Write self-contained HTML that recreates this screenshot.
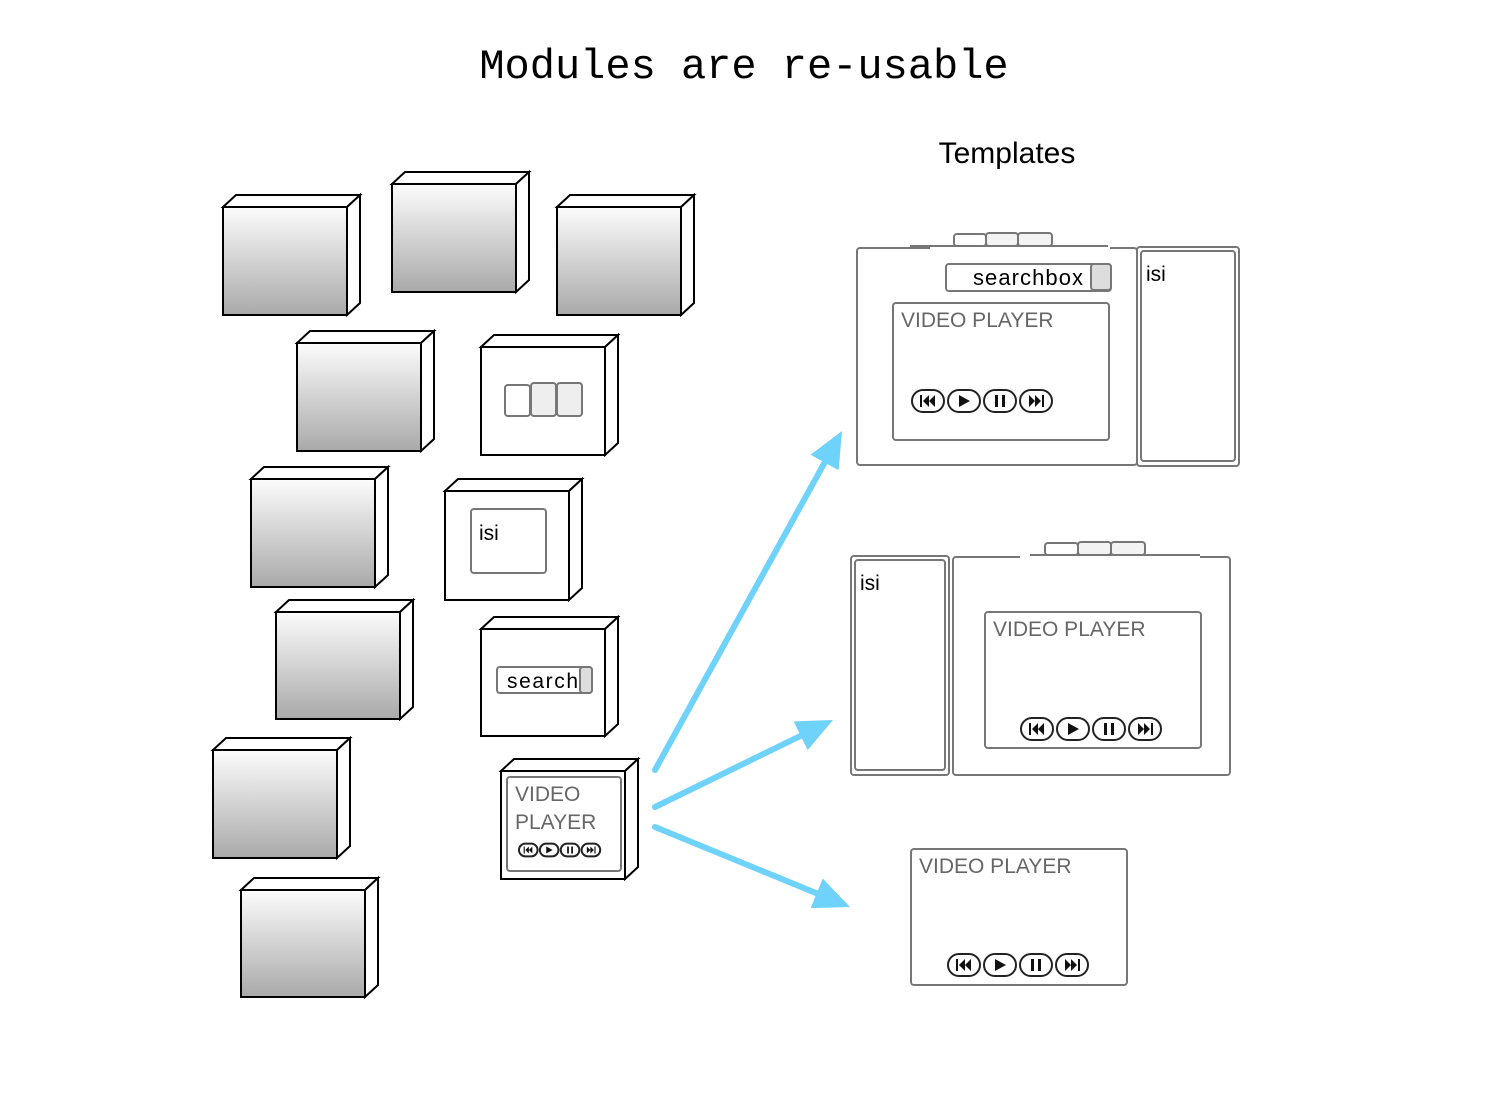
<!DOCTYPE html>
<html><head><meta charset="utf-8"><style>
html,body{margin:0;padding:0;background:#fff;}
svg{display:block}
.hand{font-family:"Liberation Sans",sans-serif;fill:#666;font-size:21px}
.lbl{font-family:"Liberation Sans",sans-serif;fill:#000}
</style></head><body>
<svg id="s" width="1512" height="1106" viewBox="0 0 1512 1106" xmlns="http://www.w3.org/2000/svg">
<defs>
<linearGradient id="g" x1="0" y1="0" x2="0" y2="1"><stop offset="0" stop-color="#fcfcfc"/><stop offset="1" stop-color="#a9a9a9"/></linearGradient>
</defs>
<text x="744" y="78" text-anchor="middle" font-family="Liberation Mono,monospace" font-size="42" fill="#000">Modules are re-usable</text>
<text x="1007" y="163" text-anchor="middle" class="lbl" font-size="30">Templates</text>
<g id="cubes"></g>
<g id="sk" fill="none" stroke="#777" stroke-width="2"></g>
<g id="arr"></g>
<text x="479" y="540" class="lbl" font-size="21">isi</text>
<text x="507" y="688" class="lbl" font-size="21" textLength="71">search</text>
<text x="515" y="801" class="hand">VIDEO</text>
<text x="515" y="829" class="hand">PLAYER</text>
<text x="973" y="285" class="lbl" font-size="22" textLength="110">searchbox</text>
<text x="1146" y="281" class="lbl" font-size="21">isi</text>
<text x="901" y="327" class="hand">VIDEO PLAYER</text>
<text x="860" y="590" class="lbl" font-size="21">isi</text>
<text x="993" y="636" class="hand">VIDEO PLAYER</text>
<text x="919" y="873" class="hand">VIDEO PLAYER</text>
<g id="ctl"></g>
</svg>
<script>
var NS="http://www.w3.org/2000/svg";
function el(p,t,a){var e=document.createElementNS(NS,t);for(var k in a)e.setAttribute(k,a[k]);p.appendChild(e);return e;}
var C=document.getElementById('cubes');
var cubes=[[223,207,347,315,1],[392,184,516,292,1],[557,207,681,315,1],[297,343,421,451,1],[481,347,605,455,0],[251,479,375,587,1],[445,491,569,600,0],[276,612,400,719,1],[481,629,605,736,0],[213,750,337,858,1],[241,890,365,997,1],[501,771,625,879,0]];
cubes.forEach(function(c){var x1=c[0],y1=c[1],x2=c[2],y2=c[3],d=13;
el(C,'path',{d:'M'+x1+' '+y1+'L'+(x1+d)+' '+(y1-d+1)+'L'+(x2+d)+' '+(y1-d+1)+'L'+x2+' '+y1+'Z',fill:'#fff',stroke:'#000','stroke-width':2});
el(C,'path',{d:'M'+x2+' '+y1+'L'+(x2+d)+' '+(y1-d+1)+'L'+(x2+d)+' '+(y2-d+1)+'L'+x2+' '+y2+'Z',fill:'#fff',stroke:'#000','stroke-width':2});
el(C,'rect',{x:x1,y:y1,width:x2-x1,height:y2-y1,fill:c[4]?'url(#g)':'#fff',stroke:'#000','stroke-width':2});});
var S=document.getElementById('sk');
function r(x1,y1,x2,y2,w,f){el(S,'rect',{x:x1,y:y1,width:x2-x1,height:y2-y1,rx:3,'stroke-width':w||2,fill:f||'none'});}
r(505,385,530,416,2,'#fff');r(531,383,556,416,2,'#eee');r(557,383,582,416,2,'#eee');
r(471,509,546,573);
r(497,667,592,693);r(580,667,592,693,2,'#ddd');
r(507,777,621,871);
r(857,248,1137,465);r(1137,247,1239,466);r(1141,251,1235,461);
el(S,'rect',{x:930,y:238,width:180,height:12,fill:'#fff',stroke:'none'});
r(954,234,986,246);r(986,233,1018,246,2,'#f3f3f3');r(1018,233,1052,246,2,'#f3f3f3');
el(S,'line',{x1:910,y1:246,x2:1108,y2:246});
r(946,264,1111,291);r(1091,264,1111,290,2,'#ddd');
r(893,303,1109,440);
r(851,556,949,775);r(855,560,945,770);r(953,557,1230,775);
el(S,'rect',{x:1020,y:549,width:180,height:12,fill:'#fff',stroke:'none'});
r(1045,543,1078,555);r(1078,542,1111,555,2,'#f3f3f3');r(1111,542,1145,555,2,'#f3f3f3');
el(S,'line',{x1:1030,y1:555,x2:1200,y2:555});
r(985,612,1201,748);
r(911,849,1127,985);
var K=document.getElementById('ctl');
function ctl(x,y,s){var w=32*s,h=22*s,gap=36*s;for(var i=0;i<4;i++){var cx=x+i*gap;
el(K,'rect',{x:cx,y:y-h/2,width:w,height:h,rx:h/2,fill:'#fff',stroke:'#222','stroke-width':2});
var m=cx+w/2,t=6*s;
if(i==0){el(K,'rect',{x:m-8*s,y:y-t,width:2*s,height:2*t,fill:'#111'});el(K,'path',{d:'M'+(m-5*s)+' '+y+'l'+6*s+' '+(-t)+'v'+2*t+'z M'+(m+1*s)+' '+y+'l'+6*s+' '+(-t)+'v'+2*t+'z',fill:'#111'});}
if(i==1){el(K,'path',{d:'M'+(m-5*s)+' '+(y-t)+'l'+11*s+' '+t+'l'+(-11*s)+' '+t+'z',fill:'#111'});}
if(i==2){el(K,'rect',{x:m-5*s,y:y-t,width:3*s,height:2*t,fill:'#111'});el(K,'rect',{x:m+2*s,y:y-t,width:3*s,height:2*t,fill:'#111'});}
if(i==3){el(K,'path',{d:'M'+(m-7*s)+' '+(y-t)+'l'+6*s+' '+t+'l'+(-6*s)+' '+t+'z M'+(m-1*s)+' '+(y-t)+'l'+6*s+' '+t+'l'+(-6*s)+' '+t+'z',fill:'#111'});el(K,'rect',{x:m+6*s,y:y-t,width:2*s,height:2*t,fill:'#111'});}}}
ctl(912,401,1);ctl(1021,729,1);ctl(948,965,1);ctl(519,850,0.58);
var A=document.getElementById('arr');
function arrow(x1,y1,x2,y2){var dx=x2-x1,dy=y2-y1,L=Math.hypot(dx,dy),ux=dx/L,uy=dy/L,hl=36,hw=16;
var bx=x2-ux*hl,by=y2-uy*hl;
el(A,'line',{x1:x1,y1:y1,x2:bx+ux*4,y2:by+uy*4,stroke:'#6fd2fb','stroke-width':6,'stroke-linecap':'round'});
el(A,'path',{d:'M'+x2+' '+y2+'L'+(bx-uy*hw)+' '+(by+ux*hw)+'L'+(bx+uy*hw)+' '+(by-ux*hw)+'Z',fill:'#6fd2fb'});}
arrow(655,770,842,431);arrow(655,807,833,720);arrow(655,827,850,907);
</script>
</body></html>
